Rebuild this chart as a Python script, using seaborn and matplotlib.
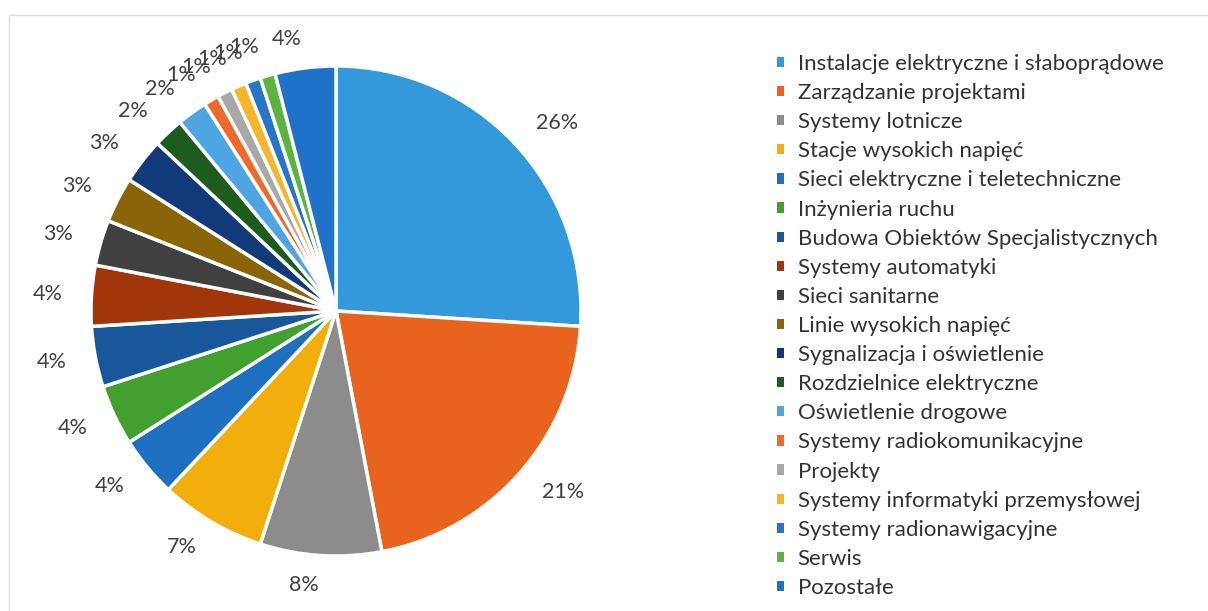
import matplotlib
matplotlib.use("Agg")
import matplotlib.pyplot as plt
import seaborn as sns
from matplotlib.patches import Patch, Rectangle

categories = [
    "Instalacje elektryczne i słaboprądowe",
    "Zarządzanie projektami",
    "Systemy lotnicze",
    "Stacje wysokich napięć",
    "Sieci elektryczne i teletechniczne",
    "Inżynieria ruchu",
    "Budowa Obiektów Specjalistycznych",
    "Systemy automatyki",
    "Sieci sanitarne",
    "Linie wysokich napięć",
    "Sygnalizacja i oświetlenie",
    "Rozdzielnice elektryczne",
    "Oświetlenie drogowe",
    "Systemy radiokomunikacyjne",
    "Projekty",
    "Systemy informatyki przemysłowej",
    "Systemy radionawigacyjne",
    "Serwis",
    "Pozostałe",
]
values = [26, 21, 8, 7, 4, 4, 4, 4, 3, 3, 3, 2, 2, 1, 1, 1, 1, 1, 4]
pct_labels = [f"{v}%" for v in values]
colors_hex = [
    "#3399DB", "#E8641E", "#8C8C8C", "#F2AE0A", "#1F6FC0", "#42A02E",
    "#18579A", "#A0360A", "#404040", "#8A6508", "#12397A", "#1E5B1E",
    "#4DA6E3", "#EE6A2A", "#A8A8A8", "#F7B52A", "#2576C8", "#5BB340",
    "#1E72C8",
]

sns.set_theme(style="white")
plt.rcParams['font.family'] = ['Lato', 'DejaVu Sans']
palette = sns.color_palette(colors_hex)

W, H = 1208, 611
fig = plt.figure(figsize=(W / 100, H / 100), dpi=100)
fig.patch.set_facecolor("white")

# faint chart-area border
fig.patches.append(Rectangle((9 / W, -0.1), 1.2, (H - 15) / H + 0.1,
                             transform=fig.transFigure, fill=False,
                             edgecolor="#DCDCDC", linewidth=1.0))

cx, cy, R = 336, 311, 245
ax = fig.add_axes([(cx - R) / W, (H - cy - R) / H, 2 * R / W, 2 * R / H])
wedges, texts = ax.pie(
    values, labels=pct_labels, colors=palette, startangle=90,
    counterclock=False, labeldistance=1.12,
    wedgeprops=dict(edgecolor="white", linewidth=2.5),
    textprops=dict(fontsize=15.5, color="#404040"),
)
ax.set_xlim(-1, 1)
ax.set_ylim(-1, 1)
ax.set_aspect("equal")
ax.axis("off")

handles = [Patch(facecolor=c, edgecolor="none") for c in palette]
fig.legend(handles, categories, loc="upper left",
           bbox_to_anchor=(777 / W, 1 - 54 / H), frameon=False,
           handlelength=0.33, handleheight=0.33, handletextpad=0.6,
           labelspacing=0.41, fontsize=16, borderpad=0, borderaxespad=0,
           labelcolor="#333333")

fig.savefig("out.png", dpi=100, facecolor="white")
